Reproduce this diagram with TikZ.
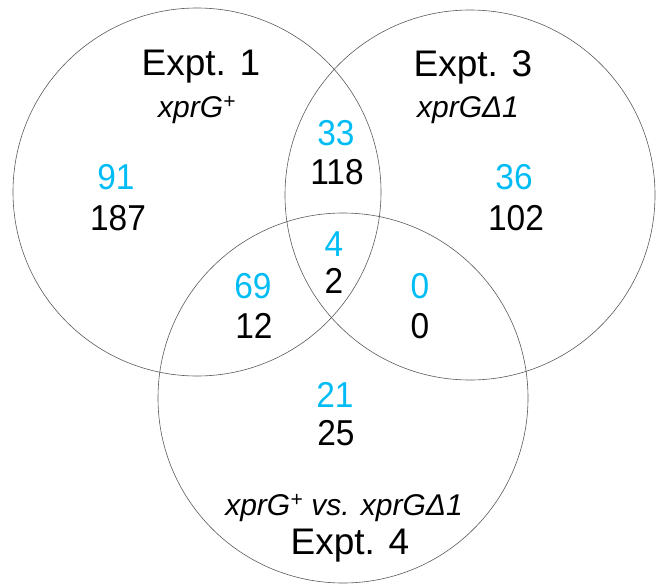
\documentclass[tikz,border=0pt]{standalone}
\usepackage{fontspec}
\setmainfont{Liberation Sans}
\newfontfamily\numfont[FakeStretch=0.93]{Liberation Sans}
\definecolor{cyanA}{RGB}{0,188,245}
\definecolor{ringC}{RGB}{90,90,90}
\begin{document}
\begin{tikzpicture}[x=1pt,y=-1pt,
  ring/.style={draw=ringC,line width=0.6pt},
  num/.style={inner sep=0pt,font=\numfont\fontsize{36}{38}\selectfont},
  cnum/.style={num,text=cyanA},
  title/.style={inner sep=0pt,font=\fontsize{37}{40}\selectfont},
  geno/.style={inner sep=0pt,font=\fontsize{30}{32}\selectfont\itshape}]
\useasboundingbox (0,0) rectangle (658,586);
\draw[ring] (197,192) circle[radius=184] coordinate (c1);
\draw[ring] (470,195) circle[radius=185] coordinate (c3);
\draw[ring] (343,398) circle[radius=185] coordinate (c4);

\node[title] (e1) at (201,67) {Expt. 1};
\node[geno] (g1) at (197,110) {xprG\textsuperscript{+}};
\node[title] (e3) at (473,67) {Expt. 3};
\node[geno] (g3) at (468,110) {xprGΔ1};
\node[geno] (g4) at (344,508) {xprG\textsuperscript{+} vs. xprGΔ1};
\node[title] (e4) at (350,546) {Expt. 4};

\node[cnum] (a1) at (116,177) {91};
\node[num]  (b1) at (118,218) {187};
\node[cnum] (a13) at (336,133) {33};
\node[num]  (b13) at (337,172) {118};
\node[cnum] (a3) at (514,177) {36};
\node[num]  (b3) at (516,218) {102};
\node[cnum] (a134) at (334,244) {4};
\node[num]  (b134) at (334,281) {2};
\node[cnum] (a14) at (253,286) {69};
\node[num]  (b14) at (254,326) {12};
\node[cnum] (a34) at (420,286) {0};
\node[num]  (b34) at (420,326) {0};
\node[cnum] (a4) at (335,395) {21};
\node[num]  (b4) at (336,433) {25};
\end{tikzpicture}
\end{document}
